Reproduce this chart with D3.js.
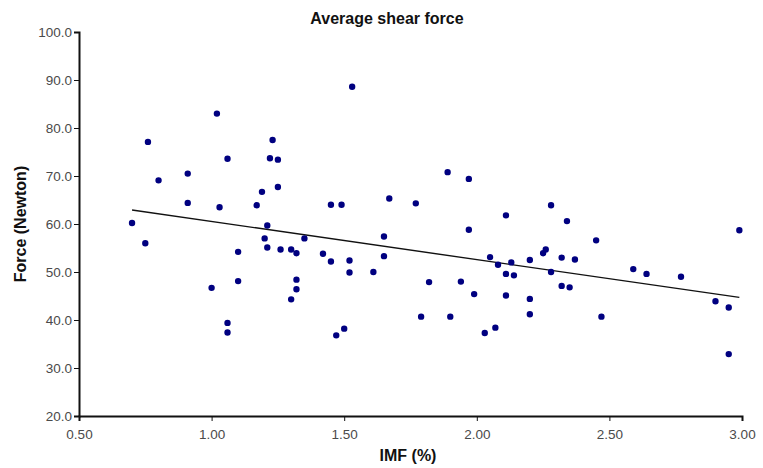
<!DOCTYPE html>
<html>
<head>
<meta charset="utf-8">
<script src="https://cdn.jsdelivr.net/npm/d3@7"></script>
<style>
	body { margin: 0; background: #fff; }
	svg text { font-family: Arial, "Liberation Sans", sans-serif; }
	.tick text { fill: #4a4a4a; font-size: 13.5px; }
	.axis path, .axis line { stroke: #111; }
</style>
</head>
<body>
<svg id="chart" width="763" height="468"></svg>
<script>
// IMF (%) vs average shear force (Newton)
var imf = [0.70, 0.75, 0.76, 0.80, 0.91, 0.91, 1.00, 1.02, 1.03, 1.06, 1.06, 1.06, 1.10, 1.10,
	1.17, 1.19, 1.20, 1.21, 1.21, 1.22, 1.23, 1.25, 1.25, 1.26, 1.30, 1.30, 1.32, 1.32, 1.32,
	1.35, 1.42, 1.45, 1.45, 1.47, 1.49, 1.50, 1.52, 1.52, 1.53, 1.61, 1.65, 1.65, 1.67, 1.77,
	1.79, 1.82, 1.89, 1.90, 1.94, 1.97, 1.97, 1.99, 2.03, 2.05, 2.07, 2.08, 2.11, 2.11, 2.11,
	2.13, 2.14, 2.20, 2.20, 2.20, 2.25, 2.26, 2.28, 2.28, 2.32, 2.32, 2.34, 2.35, 2.37, 2.45,
	2.47, 2.59, 2.64, 2.77, 2.90, 2.95, 2.95, 2.99];
var force = [60.2, 56.0, 77.1, 69.1, 70.5, 64.4, 46.7, 83.0, 63.5, 73.6, 39.4, 37.4, 54.2, 48.1,
	63.9, 66.7, 57.0, 59.7, 55.1, 73.7, 77.5, 73.4, 67.7, 54.7, 54.7, 44.3, 53.9, 48.4, 46.4,
	57.0, 53.8, 64.0, 52.2, 36.8, 64.0, 38.2, 52.4, 49.9, 88.6, 50.0, 57.4, 53.3, 65.3, 64.3,
	40.7, 47.9, 70.8, 40.7, 48.0, 69.4, 58.8, 45.4, 37.3, 53.1, 38.4, 51.5, 61.8, 49.6, 45.1,
	52.0, 49.3, 52.5, 44.4, 41.2, 53.9, 54.7, 63.9, 50.0, 53.0, 47.1, 60.6, 46.8, 52.6, 56.6,
	40.7, 50.6, 49.6, 49.0, 43.9, 42.6, 32.9, 58.7];
var xTicks = [0.5, 1.0, 1.5, 2.0, 2.5, 3.0];
var yTicks = [20, 30, 40, 50, 60, 70, 80, 90, 100];

var svg = d3.select("#chart");
var margin = {left: 79, right: 21, top: 32, bottom: 52},
	width = 763 - margin.left - margin.right,
	height = 468 - margin.top - margin.bottom;

var x = d3.scaleLinear().domain([0.5, 3.0]).range([0, width]);
var y = d3.scaleLinear().domain([20, 100]).range([height, 0]);

var g = svg.append("g").attr("transform", "translate(" + margin.left + "," + margin.top + ")");

g.append("g")
	.attr("class", "axis")
	.attr("transform", "translate(0," + height + ")")
	.call(d3.axisBottom(x).tickValues(xTicks).tickFormat(d3.format(".2f")).tickSize(5).tickSizeOuter(5))
	.call(function(a){ a.select(".domain").attr("stroke-width", 2); a.selectAll(".tick text").attr("dy", "1.1em"); });

g.append("g")
	.attr("class", "axis")
	.call(d3.axisLeft(y).tickValues(yTicks).tickFormat(d3.format(".1f")).tickSize(5).tickSizeOuter(5))
	.call(function(a){ a.select(".domain").attr("stroke-width", 2); a.selectAll(".tick text").attr("x", -7); });

// least squares trend line
var mx = d3.mean(imf), my = d3.mean(force);
var sxy = d3.sum(imf, function(v, i){ return (v - mx) * (force[i] - my); });
var sxx = d3.sum(imf, function(v){ return (v - mx) * (v - mx); });
var slope = sxy / sxx, icpt = my - slope * mx;
var xr = d3.extent(imf);

g.append("line")
	.attr("x1", x(xr[0])).attr("y1", y(icpt + slope * xr[0]))
	.attr("x2", x(xr[1])).attr("y2", y(icpt + slope * xr[1]))
	.attr("stroke", "#111").attr("stroke-width", 1.4);

g.selectAll(".dot")
	.data(imf)
	.enter().append("path")
	.attr("class", "dot")
	.attr("d", d3.symbol().type(d3.symbolCircle).size(32))
	.attr("transform", function(d, i){ return "translate(" + x(d) + "," + y(force[i]) + ")"; })
	.attr("fill", "#000080");

svg.append("text")
	.attr("x", 387).attr("y", 24)
	.attr("text-anchor", "middle")
	.style("font-size", "16px").style("font-weight", "bold").style("fill", "#111")
	.text("Average shear force");

svg.append("text")
	.attr("x", 408).attr("y", 461)
	.attr("text-anchor", "middle")
	.style("font-size", "16px").style("font-weight", "bold").style("fill", "#111")
	.text("IMF (%)");

svg.append("text")
	.attr("transform", "translate(26,224) rotate(-90)")
	.attr("text-anchor", "middle")
	.style("font-size", "16px").style("font-weight", "bold").style("fill", "#111")
	.text("Force (Newton)");
</script>
</body>
</html>
